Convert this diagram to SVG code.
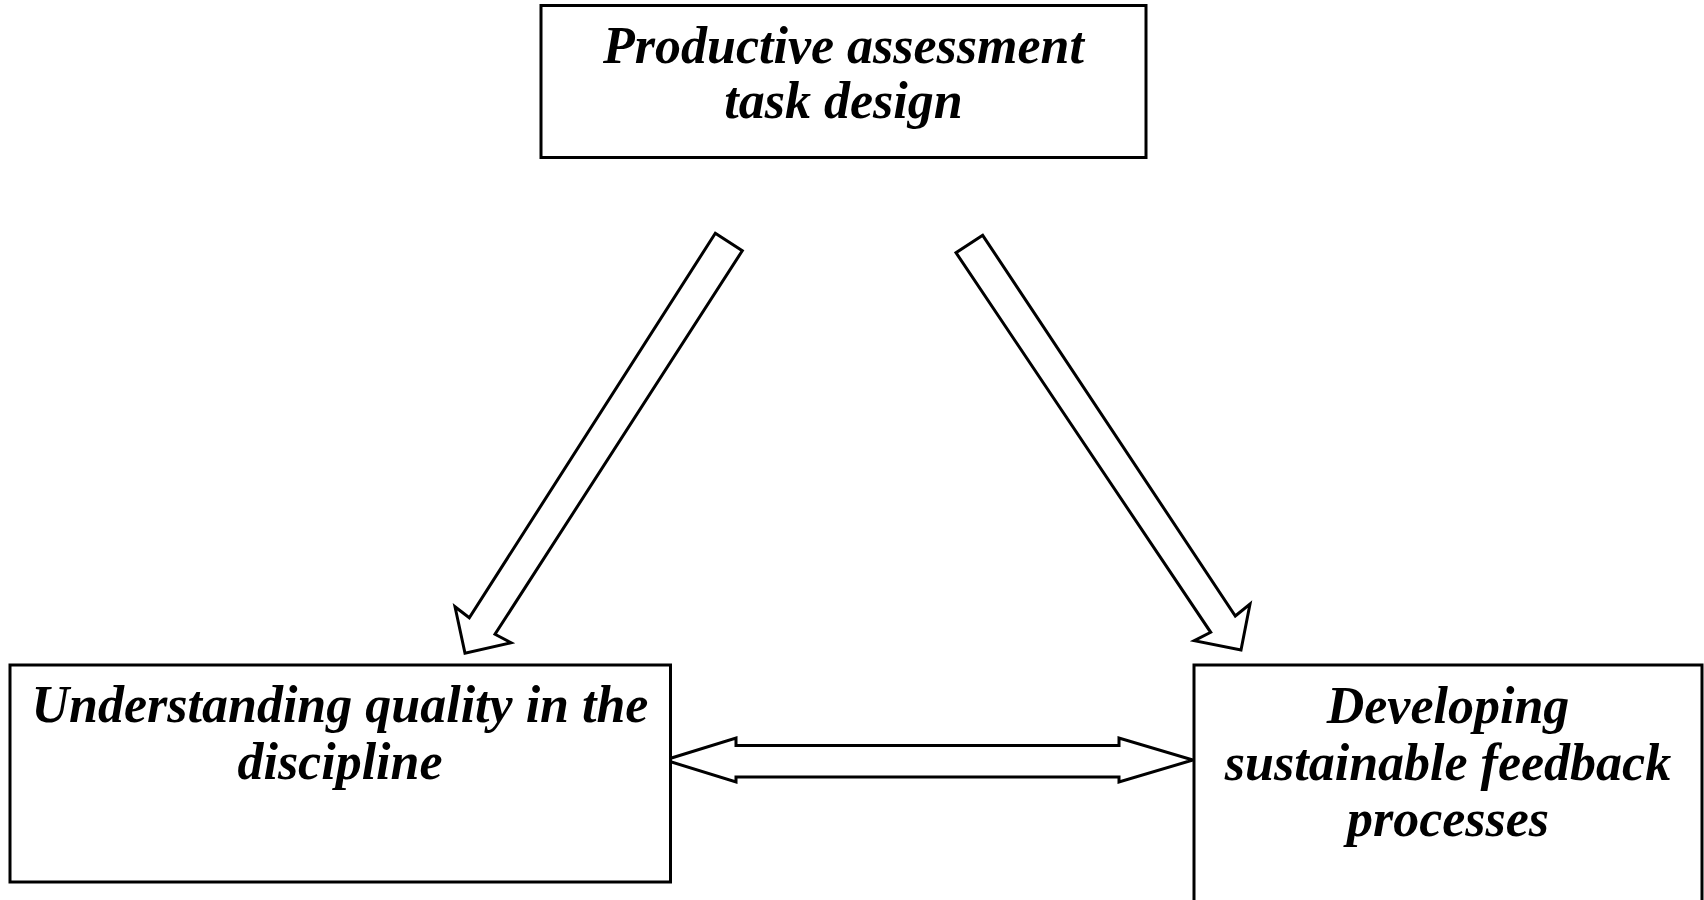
<svg xmlns="http://www.w3.org/2000/svg" width="1704" height="900" viewBox="0 0 1704 900">
<style>
.box{fill:#fff;stroke:#000;stroke-width:3}
.arr{fill:#fff;stroke:#000;stroke-width:3;stroke-linejoin:miter}
.lbl{font-family:"Liberation Serif","Times New Roman",serif;font-weight:bold;font-style:italic;font-size:52px;fill:#000;text-anchor:middle}
</style>
<rect width="1704" height="900" fill="#fff"/>
<g id="connectors">
<polygon class="arr" points="715.3,233.3 742.3,250.7 495,634.3 511,642.7 465,653.3 455,606.7 469.3,617.7"/>
<polygon class="arr" points="982.7,235.3 956,252.7 1210.7,632.3 1194.3,640.7 1241,650 1250,604 1235.3,616"/>
<polygon class="arr" points="665,760 736,738 736,745.5 1119,745.5 1119,738 1193,760 1119,782 1119,777 736,777 736,782"/>
</g>
<g id="node-top">
<rect class="box" x="541" y="5.5" width="605" height="152"/>
<text class="lbl" x="843.5" y="63">Productive assessment</text>
<text class="lbl" x="843.5" y="117.5">task design</text>
</g>
<g id="node-left">
<rect class="box" x="10" y="665" width="660.5" height="217"/>
<text class="lbl" x="340" y="722">Understanding quality in the</text>
<text class="lbl" x="340" y="779">discipline</text>
</g>
<g id="node-right">
<rect class="box" x="1194" y="665" width="508" height="250"/>
<text class="lbl" x="1448" y="722.5">Developing</text>
<text class="lbl" x="1448" y="780">sustainable feedback</text>
<text class="lbl" x="1448" y="836">processes</text>
</g>
</svg>
